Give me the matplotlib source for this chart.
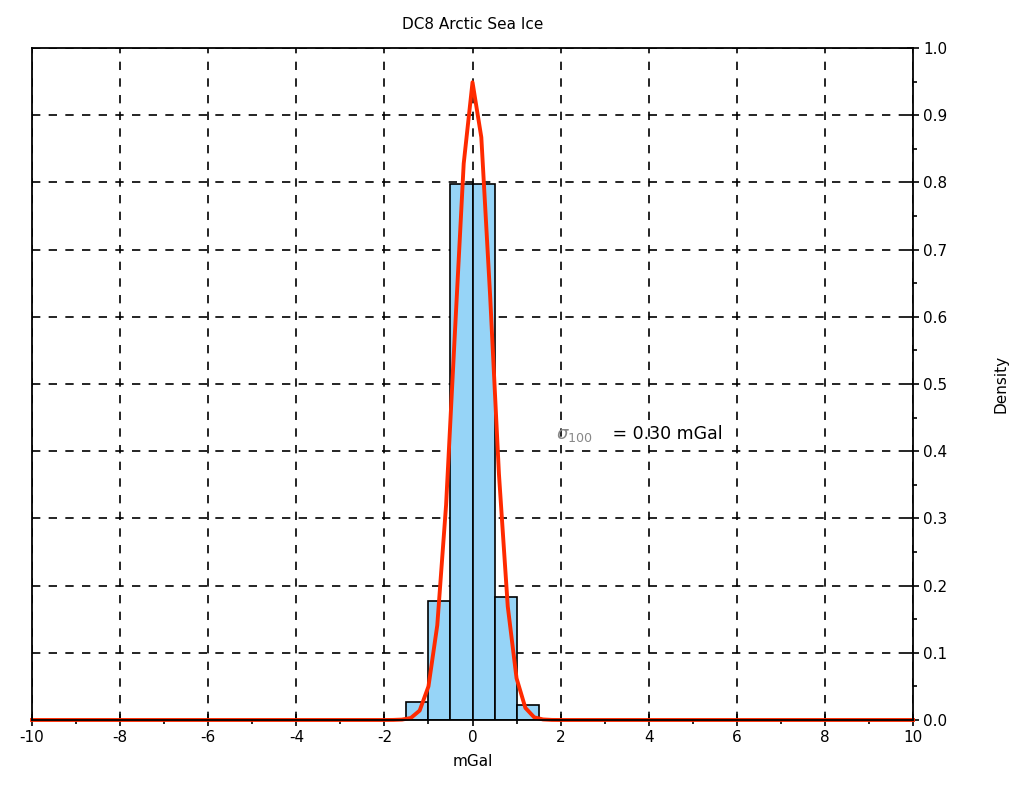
import matplotlib
matplotlib.use("Agg")
import matplotlib.pyplot as plt
from matplotlib.ticker import MultipleLocator, FormatStrFormatter

# Histogram data
bin_edges = [-1.5, -1.0, -0.5, 0.0, 0.5, 1.0, 1.5]
bin_heights = [0.027, 0.177, 0.797, 0.797, 0.183, 0.022]

# Fitted density curve
curve_x = [-10.0, -2.0, -1.8, -1.6, -1.4, -1.2, -1.0, -0.8, -0.6, -0.4, -0.2,
           0.0, 0.2, 0.4, 0.6, 0.8, 1.0, 1.2, 1.4, 1.6, 1.8, 2.0, 10.0]
curve_y = [0.0, 0.0, 0.0001, 0.0006, 0.003, 0.014, 0.050, 0.141, 0.320, 0.576, 0.828,
           0.949, 0.867, 0.631, 0.366, 0.169, 0.062, 0.018, 0.004, 0.0008, 0.0001, 0.0, 0.0]

title = "DC8 Arctic Sea Ice"
xlabel = "mGal"
ylabel = "Density"
annot_value = " = 0.30 mGal"

plt.rcParams['font.family'] = ['DejaVu Sans']
plt.rcParams['axes.unicode_minus'] = False
fig = plt.figure(figsize=(10.2, 7.96), dpi=100)
ax = fig.add_axes([0.0314, 0.0955, 0.8637, 0.8442])

widths = [bin_edges[i+1] - bin_edges[i] for i in range(len(bin_heights))]
ax.bar(bin_edges[:-1], bin_heights, width=widths, align='edge',
       color='#96d4f7', edgecolor='black', linewidth=1.2, zorder=2)
ax.plot(curve_x, curve_y, color='#ff2a00', linewidth=2.8, zorder=3, clip_on=False)

ax.set_xlim(-10, 10)
ax.set_ylim(0, 1.0)
ax.xaxis.set_major_locator(MultipleLocator(2))
ax.xaxis.set_minor_locator(MultipleLocator(1))
ax.yaxis.set_major_locator(MultipleLocator(0.1))
ax.yaxis.set_minor_locator(MultipleLocator(0.05))
ax.yaxis.tick_right()
ax.yaxis.set_label_position('right')
ax.yaxis.set_major_formatter(FormatStrFormatter('%.1f'))

ax.tick_params(axis='x', which='major', direction='inout', length=8, width=1.2, labelsize=11)
ax.tick_params(axis='x', which='minor', direction='out', length=3, width=1.2)
ax.tick_params(axis='y', which='major', direction='inout', length=8, width=1.2, labelsize=11)
ax.tick_params(axis='y', which='minor', direction='out', length=3, width=1.2)

ax.grid(True, which='major', color='black', linestyle=(0, (5, 5)), linewidth=1.2, zorder=1)
ax.set_axisbelow(True)
for s in ax.spines.values():
    s.set_linewidth(1.3)
    s.set_zorder(4)

ax.set_title(title, fontsize=11, pad=14)
ax.set_xlabel(xlabel, fontsize=11, labelpad=6)
ax.set_ylabel(ylabel, fontsize=11, labelpad=33)

ax.text(1.9, 0.418, r"$\sigma_{100}$", color='#888888', fontsize=13,
        fontfamily='serif', va='baseline', ha='left', zorder=5)
ax.text(3.05, 0.418, annot_value, color='black', fontsize=12.5,
        va='baseline', ha='left', zorder=5)

fig.savefig("out.png", dpi=100)
